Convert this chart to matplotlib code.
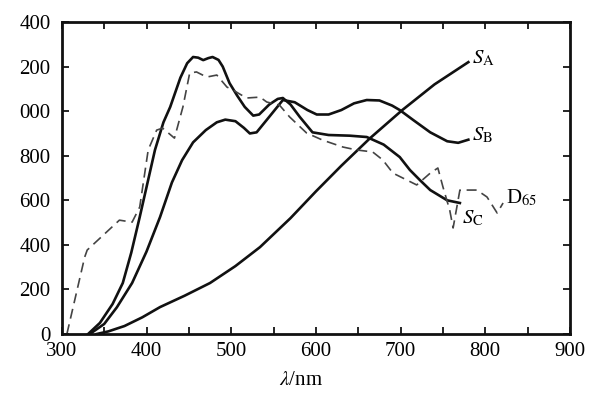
import matplotlib
matplotlib.use("Agg")
import matplotlib.pyplot as plt

plt.rcParams['font.family'] = ['Liberation Serif', 'DejaVu Serif']
plt.rcParams['mathtext.fontset'] = 'stix'

# values (wavelength nm, relative power)
sa_x = [341, 355, 374, 395, 416, 445, 475, 505, 534, 570, 600, 630, 664, 702, 740, 780]
sa_y = [0, 12, 36, 75, 121, 172, 229, 305, 390, 520, 640, 755, 879, 1005, 1120, 1220]

sb_x = [333, 350, 365, 383, 400, 416, 430, 442, 455, 470, 483, 493, 505, 515, 522, 530, 545, 561, 575, 590, 601,
        615, 630, 645, 660, 675, 690, 699, 715, 735, 755, 768, 780]
sb_y = [0, 45, 120, 229, 370, 525, 680, 780, 860, 915, 950, 962, 955, 925, 900, 905, 975, 1050, 1040, 1005, 985,
        985, 1005, 1035, 1050, 1048, 1025, 1005, 960, 905, 865, 858, 872]

sc_x = [331, 345, 360, 372, 382, 392, 410, 420, 428, 440, 448, 455, 461, 467, 473, 478, 485, 490, 498, 507, 516, 526, 533,
        545, 555, 561, 570, 581, 596, 615, 640, 660, 680, 699, 711, 723, 735, 755, 770]
sc_y = [0, 50, 135, 229, 365, 525, 826, 950, 1019, 1150, 1215, 1243, 1240, 1229, 1238, 1243, 1230, 1200, 1126, 1070, 1019, 980, 985,
        1030, 1055, 1059, 1030, 974, 905, 893, 890, 884, 850, 794, 736, 690, 646, 600, 588]

d65_x = [306, 327, 330, 368, 383, 392, 402, 412, 419, 433, 443, 451, 459, 471, 483, 495, 502, 518, 534, 542, 557, 569, 589,
         608, 632, 648, 667, 679, 691, 719, 735, 744, 750, 758, 762, 770, 790, 802, 814, 821]
d65_y = [0, 345, 377, 511, 502, 570, 826, 915, 924, 879, 1019, 1171, 1176, 1153, 1162, 1108, 1095, 1059, 1063, 1041, 1027, 974, 902,
         870, 839, 826, 817, 781, 722, 669, 722, 745, 660, 556, 476, 646, 646, 615, 543, 588]

x_ticks = [300, 400, 500, 600, 700, 800, 900]
y_ticks = [0, 200, 400, 600, 800, 1000, 1200, 1400]
y_ticklabels = ['0', '200', '400', '600', '800', '000', '200', '400']

fig = plt.figure(figsize=(6, 3.93), dpi=100)
ax = fig.add_axes([0.103, 0.150, 0.847, 0.794])

ax.plot(sa_x, sa_y, color='#111111', lw=1.9)
ax.plot(sb_x, sb_y, color='#111111', lw=1.9)
ax.plot(sc_x, sc_y, color='#111111', lw=1.9)
ax.plot(d65_x, d65_y, color='#444444', lw=1.2, linestyle=(0, (6, 3.5)))

ax.text(784, 1238, r'$S_\mathrm{A}$', fontsize=15, va='center', ha='left')
ax.text(784, 893, r'$S_\mathrm{B}$', fontsize=15, va='center', ha='left')
ax.text(772, 520, r'$S_\mathrm{C}$', fontsize=15, va='center', ha='left')
ax.text(825, 610, r'D$_{65}$', fontsize=15, va='center', ha='left')

ax.set_xlim(300, 900)
ax.set_ylim(0, 1400)
ax.set_xticks(x_ticks)
ax.set_xticks([350, 450, 550, 650, 750, 850], minor=True)
ax.set_yticks(y_ticks)
ax.set_yticklabels(y_ticklabels)
ax.tick_params(which='both', direction='in', top=True, right=True, length=5, width=1.2, labelsize=15, pad=6)
ax.tick_params(axis='y', pad=8)
for s in ax.spines.values():
    s.set_linewidth(2.0)
    s.set_color('#111111')

ax.set_xlabel(r'$\lambda$/nm', fontsize=15, labelpad=2)
ax.xaxis.set_label_coords(0.47, -0.12)

fig.savefig('out.png', dpi=100)
